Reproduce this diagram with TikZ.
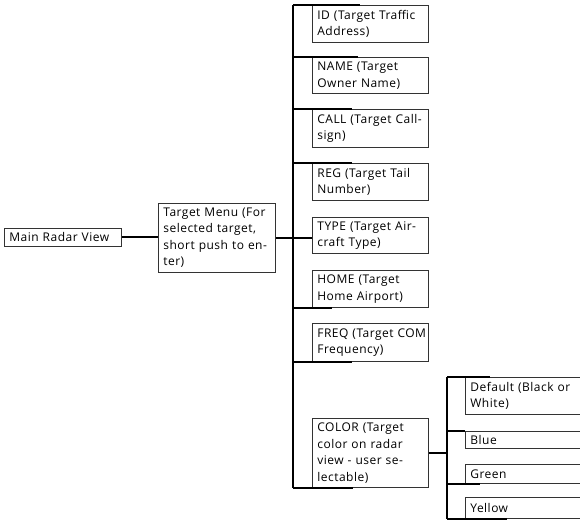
\documentclass[tikz,border=0pt]{standalone}
\usepackage{fontspec}
\setmainfont[LetterSpace=4]{Open Sans}
\newcommand{\bxline}[1]{\mbox{#1}}
\begin{document}
\begin{tikzpicture}[x=1pt,y=-1pt,
  box/.style={draw=black!80, line width=0.8pt, anchor=north west, align=left,
    inner xsep=5pt, inner ysep=0pt, font=\fontsize{12}{16.5}\selectfont},
  kid/.style={box, minimum width=116pt, text width=106pt},
  sub/.style={box, minimum width=135pt, text width=125pt, inner xsep=4pt},
  conn/.style={line width=2pt, black}]
\useasboundingbox (0,0) rectangle (580,520);
\clip (0,0) rectangle (580,520);
% nodes
\node[box, minimum width=117pt, text width=107pt, minimum height=18pt] (main) at (4,228) {Main Radar View};
\node[box, minimum width=117pt, text width=107pt, minimum height=69pt] (tm) at (158,203) {\bxline{Target Menu (For}\\\bxline{selected target,}\\\bxline{short push to en-}\\ter)};
\node[kid, minimum height=37pt] (id) at (312,5) {\bxline{ID (Target Traffic}\\Address)};
\node[kid, minimum height=36pt] (name) at (312,57) {\bxline{NAME (Target}\\\bxline{Owner Name)}};
\node[kid, minimum height=38pt] (call) at (312,109) {\bxline{CALL (Target Call-}\\sign)};
\node[kid, minimum height=37pt] (reg) at (312,163) {\bxline{REG (Target Tail}\\Number)};
\node[kid, minimum height=36pt] (type) at (312,217) {\bxline{TYPE (Target Air-}\\\bxline{craft Type)}};
\node[kid, minimum height=37pt] (home) at (312,270) {\bxline{HOME (Target}\\\bxline{Home Airport)}};
\node[kid, minimum height=38pt] (freq) at (312,323) {\bxline{FREQ (Target COM}\\Frequency)};
\node[kid, minimum height=69pt] (color) at (312,418) {\bxline{COLOR (Target}\\\bxline{color on radar}\\\bxline{view - user se-}\\lectable)};
\node[sub, minimum height=37pt] (def) at (465,377) {\bxline{Default (Black or}\\White)};
\node[sub, minimum height=17pt] (blue) at (465,431) {Blue};
\node[sub, minimum height=19pt] (green) at (465,464) {Green};
\node[sub, minimum height=21pt] (yellow) at (465,497) {Yellow};
% trunks
\coordinate (t1) at (293,0);
\coordinate (t2) at (447,0);
% connectors
\draw[conn] (main.east) -- (main.east -| tm.west);
\draw[conn] (tm.east) -- (tm.east -| type.west);
\draw[conn] (id.north west -| t1) -- (color.south west -| t1);
\draw[conn] (id.north west -| t1) -- ([xshift=48pt]id.north west);
\draw[conn] (name.north west -| t1) -- ([xshift=46pt]name.north west);
\draw[conn] (call.north west -| t1) -- ([xshift=40pt]call.north west);
\draw[conn] (reg.north west -| t1) -- ([xshift=40pt]reg.north west);
\draw[conn] (home.south west -| t1) -- ([xshift=20pt]home.south west);
\draw[conn] (freq.south west -| t1) -- ([xshift=40pt]freq.south west);
\draw[conn] (color.south west -| t1) -- ([xshift=41pt]color.south west);
\draw[conn] (color.east) -- (color.east -| t2);
\draw[conn] (def.north west -| t2) -- (yellow.south west -| t2);
\draw[conn] (def.north west -| t2) -- ([xshift=25pt]def.north west);
\draw[conn] (blue.north west -| t2) -- (blue.north west);
\draw[conn] (green.south west -| t2) -- ([xshift=15pt]green.south west);
\draw[conn] (yellow.south west -| t2) -- ([xshift=42pt]yellow.south west);
\end{tikzpicture}
\end{document}
